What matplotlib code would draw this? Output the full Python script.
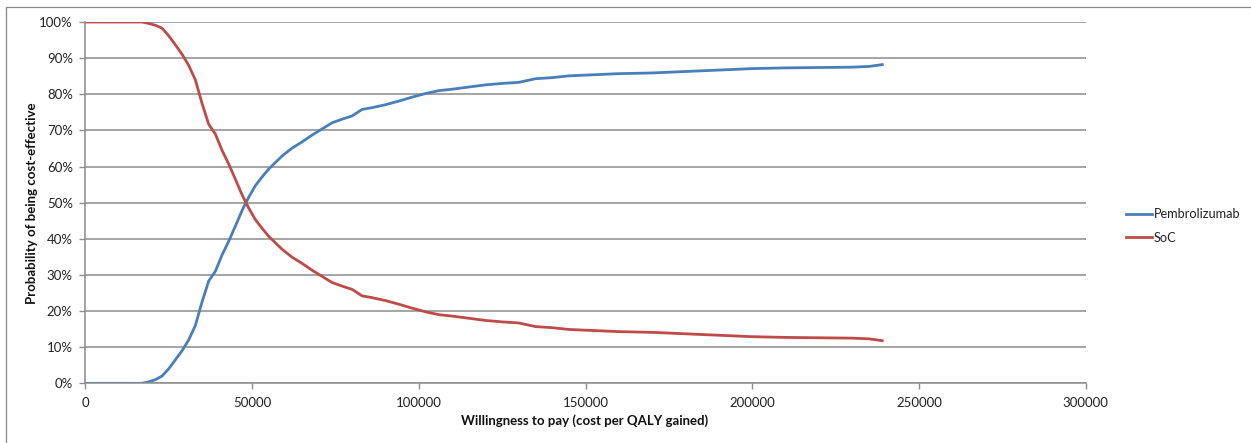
import matplotlib
matplotlib.use("Agg")
import matplotlib.pyplot as plt
from matplotlib.patches import Rectangle
from matplotlib.ticker import FuncFormatter

plt.rcParams['font.family'] = ['Lato', 'DejaVu Sans']

# Willingness-to-pay thresholds (cost per QALY gained)
wtp = [0, 17000, 19000, 21000, 23000, 25000, 27000, 29000, 31000, 33000,
       35000, 37000, 39000, 41000, 43000, 45000, 47000, 49000, 51000, 53000,
       55000, 57000, 59000, 62000, 65000, 68000, 71000, 74000, 77000, 80000,
       83000, 86000, 90000, 94000, 98000, 102000, 106000, 110000, 115000,
       120000, 125000, 130000, 135000, 140000, 145000, 150000, 160000,
       170000, 180000, 190000, 200000, 210000, 220000, 230000, 235000, 239000]

# Probability that each strategy is cost-effective
pembrolizumab = [0.000, 0.000, 0.004, 0.010, 0.020, 0.040, 0.065, 0.090, 0.120, 0.160,
                 0.225, 0.283, 0.310, 0.355, 0.393, 0.435, 0.478, 0.515, 0.547, 0.571,
                 0.593, 0.611, 0.629, 0.651, 0.668, 0.687, 0.704, 0.721, 0.731, 0.740,
                 0.758, 0.763, 0.771, 0.781, 0.792, 0.802, 0.810, 0.814, 0.820,
                 0.826, 0.830, 0.833, 0.843, 0.846, 0.851, 0.853, 0.857,
                 0.859, 0.863, 0.867, 0.871, 0.873, 0.874, 0.875, 0.877, 0.882]

soc = [1.000, 1.000, 0.996, 0.991, 0.983, 0.962, 0.937, 0.911, 0.880, 0.840,
       0.775, 0.717, 0.690, 0.645, 0.607, 0.565, 0.522, 0.485, 0.453, 0.429,
       0.407, 0.389, 0.371, 0.349, 0.332, 0.313, 0.296, 0.279, 0.269, 0.260,
       0.242, 0.237, 0.229, 0.219, 0.208, 0.198, 0.190, 0.186, 0.180,
       0.174, 0.170, 0.167, 0.157, 0.154, 0.149, 0.147, 0.143,
       0.141, 0.137, 0.133, 0.129, 0.127, 0.126, 0.125, 0.123, 0.118]

x_ticks = [0, 50000, 100000, 150000, 200000, 250000, 300000]
y_ticks = [0.0, 0.1, 0.2, 0.3, 0.4, 0.5, 0.6, 0.7, 0.8, 0.9, 1.0]

W, H = 1251, 443
fig = plt.figure(figsize=(W / 100, H / 100), dpi=100)

# outer chart frame
fig.patches.append(Rectangle((6 / W, -0.05), 1.2, 1.05 - 7 / H,
                             transform=fig.transFigure, fill=False,
                             edgecolor='#868686', linewidth=0.9))

ax = fig.add_axes([85.3 / W, 1 - 383.3 / H, 1000.4 / W, 361.3 / H])

grid_c = '#8c8c8c'
ax.set_xlim(0, 300000)
ax.set_ylim(0, 1)
ax.set_xticks(x_ticks)
ax.set_yticks(y_ticks)
ax.yaxis.set_major_formatter(FuncFormatter(lambda v, _: f"{v * 100:.0f}%"))
ax.xaxis.set_major_formatter(FuncFormatter(lambda v, _: f"{v:.0f}"))
ax.grid(axis='y', color=grid_c, linewidth=1.1)
ax.set_axisbelow(True)
for side in ('top', 'right'):
    ax.spines[side].set_visible(False)
for side in ('left', 'bottom'):
    ax.spines[side].set_color(grid_c)
    ax.spines[side].set_linewidth(1.1)
ax.tick_params(axis='both', colors=grid_c, labelcolor='#222222',
               labelsize=9.5, length=4, width=1.0)
ax.tick_params(axis='x', pad=6)
ax.tick_params(axis='y', pad=5)

ax.plot(wtp, pembrolizumab, color='#4A7EBB', linewidth=2.0,
        label='Pembrolizumab', solid_joinstyle='round')
ax.plot(wtp, soc, color='#BE4B48', linewidth=2.0,
        label='SoC', solid_joinstyle='round')

leg = ax.legend(loc='center left', bbox_to_anchor=(1114 / W, 1 - 226 / H),
                bbox_transform=fig.transFigure, frameon=False,
                fontsize=9.2, handlelength=2.1, handletextpad=0.1,
                labelspacing=0.9)
for t in leg.get_texts():
    t.set_color('#222222')

fig.text(585 / W, 1 - 421 / H, 'Willingness to pay (cost per QALY gained)',
         ha='center', va='center', fontsize=9.5, fontweight='bold', color='#111111')
fig.text(32 / W, 1 - 203 / H, 'Probability of being cost-effective',
         ha='center', va='center', rotation=90, fontsize=9.5,
         fontweight='bold', color='#111111')

fig.savefig('out.png', dpi=100)
